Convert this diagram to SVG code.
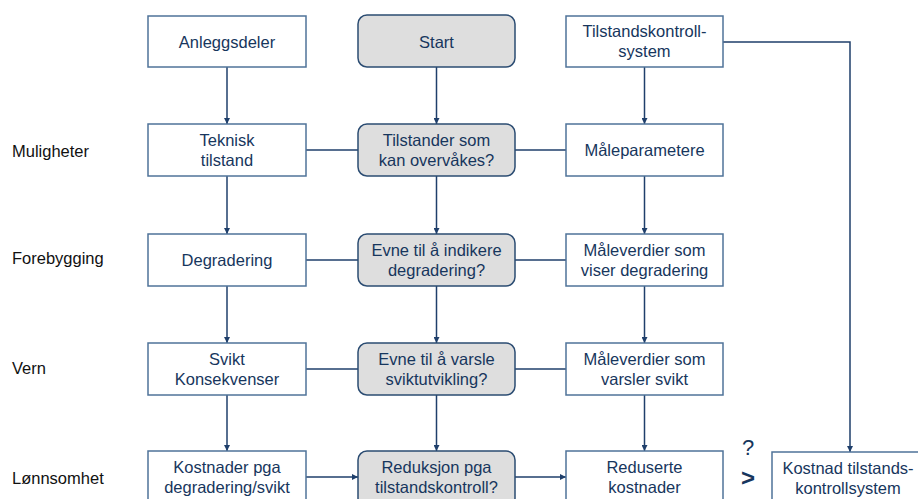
<svg xmlns="http://www.w3.org/2000/svg" width="918" height="499" viewBox="0 0 918 499">
<defs>
<style>
.box{fill:#ffffff;stroke:#4f7399;stroke-width:1.5}
.q{fill:#dedede;stroke:#2b4c72;stroke-width:1.5}
.t{font-family:"Liberation Sans",Arial,sans-serif;font-size:16.5px;fill:#17365d;text-anchor:middle}
.side{font-family:"Liberation Sans",Arial,sans-serif;font-size:16.5px;fill:#111111}
.c{stroke:#1f3f6b;stroke-width:1.5;fill:none}
.a{marker-end:url(#ah)}
</style>
<marker id="ah" viewBox="0 0 10 10" refX="10" refY="5" markerWidth="6" markerHeight="6" markerUnits="userSpaceOnUse" orient="auto">
<path d="M0,0 L10,5 L0,10 Z" fill="#1f3f6b"/>
</marker>
</defs>
<rect width="918" height="499" fill="#ffffff"/>

<g id="labels">
<text class="side" x="12" y="157">Muligheter</text>
<text class="side" x="12" y="264">Forebygging</text>
<text class="side" x="12" y="374">Vern</text>
<text class="side" x="12" y="484">Lønnsomhet</text>
</g>

<g id="connectors">
<line class="c a" x1="227" y1="67" x2="227" y2="124"/>
<line class="c a" x1="227" y1="176" x2="227" y2="234"/>
<line class="c a" x1="227" y1="286" x2="227" y2="343"/>
<line class="c a" x1="227" y1="395" x2="227" y2="451"/>
<line class="c a" x1="436.5" y1="67" x2="436.5" y2="124"/>
<line class="c a" x1="436.5" y1="176" x2="436.5" y2="234"/>
<line class="c a" x1="436.5" y1="286" x2="436.5" y2="343"/>
<line class="c a" x1="436.5" y1="395" x2="436.5" y2="451"/>
<line class="c a" x1="644.5" y1="67" x2="644.5" y2="124"/>
<line class="c a" x1="644.5" y1="176" x2="644.5" y2="234"/>
<line class="c a" x1="644.5" y1="286" x2="644.5" y2="343"/>
<line class="c a" x1="644.5" y1="395" x2="644.5" y2="451"/>
<line class="c" x1="306" y1="150" x2="358" y2="150"/>
<line class="c" x1="515" y1="150" x2="566" y2="150"/>
<line class="c" x1="306" y1="260" x2="358" y2="260"/>
<line class="c" x1="515" y1="260" x2="566" y2="260"/>
<line class="c" x1="306" y1="369" x2="358" y2="369"/>
<line class="c" x1="515" y1="369" x2="566" y2="369"/>
<line class="c a" x1="306" y1="477" x2="358" y2="477"/>
<line class="c a" x1="515" y1="477" x2="566" y2="477"/>
<polyline class="c a" points="723,42 850,42 850,452"/>
</g>

<g id="n-anleggsdeler"><rect class="box" x="148" y="16" width="158" height="51"/><text class="t" x="227" y="48">Anleggsdeler</text></g>
<g id="n-start"><rect class="q" x="358" y="15" width="157" height="52" rx="9"/><text class="t" x="436.5" y="48">Start</text></g>
<g id="n-tks"><rect class="box" x="566" y="16" width="157" height="51"/><text class="t" x="644.5" y="37">Tilstandskontroll-</text><text class="t" x="644.5" y="57">system</text></g>

<g id="n-teknisk"><rect class="box" x="148" y="124" width="158" height="52"/><text class="t" x="227" y="146">Teknisk</text><text class="t" x="227" y="166">tilstand</text></g>
<g id="n-tilstander"><rect class="q" x="358" y="124" width="157" height="52" rx="9"/><text class="t" x="436.5" y="146">Tilstander som</text><text class="t" x="436.5" y="166">kan overvåkes?</text></g>
<g id="n-maleparametere"><rect class="box" x="566" y="124" width="157" height="52"/><text class="t" x="644.5" y="156">Måleparametere</text></g>

<g id="n-degradering"><rect class="box" x="148" y="234" width="158" height="52"/><text class="t" x="227" y="266">Degradering</text></g>
<g id="n-evne-indikere"><rect class="q" x="358" y="234" width="157" height="52" rx="9"/><text class="t" x="436.5" y="256">Evne til å indikere</text><text class="t" x="436.5" y="276">degradering?</text></g>
<g id="n-maleverdier-deg"><rect class="box" x="566" y="234" width="157" height="52"/><text class="t" x="644.5" y="256">Måleverdier som</text><text class="t" x="644.5" y="276">viser degradering</text></g>

<g id="n-svikt"><rect class="box" x="148" y="343" width="158" height="52"/><text class="t" x="227" y="365">Svikt</text><text class="t" x="227" y="385">Konsekvenser</text></g>
<g id="n-evne-varsle"><rect class="q" x="358" y="343" width="157" height="52" rx="9"/><text class="t" x="436.5" y="365">Evne til å varsle</text><text class="t" x="436.5" y="385">sviktutvikling?</text></g>
<g id="n-maleverdier-svikt"><rect class="box" x="566" y="343" width="157" height="52"/><text class="t" x="644.5" y="365">Måleverdier som</text><text class="t" x="644.5" y="385">varsler svikt</text></g>

<g id="n-kostnader"><rect class="box" x="148" y="451" width="158" height="52"/><text class="t" x="227" y="473">Kostnader pga</text><text class="t" x="227" y="493">degradering/svikt</text></g>
<g id="n-reduksjon"><rect class="q" x="358" y="451" width="157" height="56" rx="9"/><text class="t" x="436.5" y="473">Reduksjon pga</text><text class="t" x="436.5" y="493">tilstandskontroll?</text></g>
<g id="n-reduserte"><rect class="box" x="566" y="451" width="157" height="52"/><text class="t" x="644.5" y="473">Reduserte</text><text class="t" x="644.5" y="493">kostnader</text></g>
<g id="n-kostnad-tks"><rect class="box" x="772" y="452" width="157" height="52"/><text class="t" x="848" y="474">Kostnad tilstands-</text><text class="t" x="848" y="494">kontrollsystem</text></g>

<g id="compare">
<text x="748" y="455" font-family="Liberation Sans,Arial,sans-serif" font-size="22" fill="#17365d" text-anchor="middle">?</text>
<text x="748" y="486" font-family="Liberation Sans,Arial,sans-serif" font-size="24" font-weight="bold" fill="#17365d" text-anchor="middle">&gt;</text>
</g>
</svg>
